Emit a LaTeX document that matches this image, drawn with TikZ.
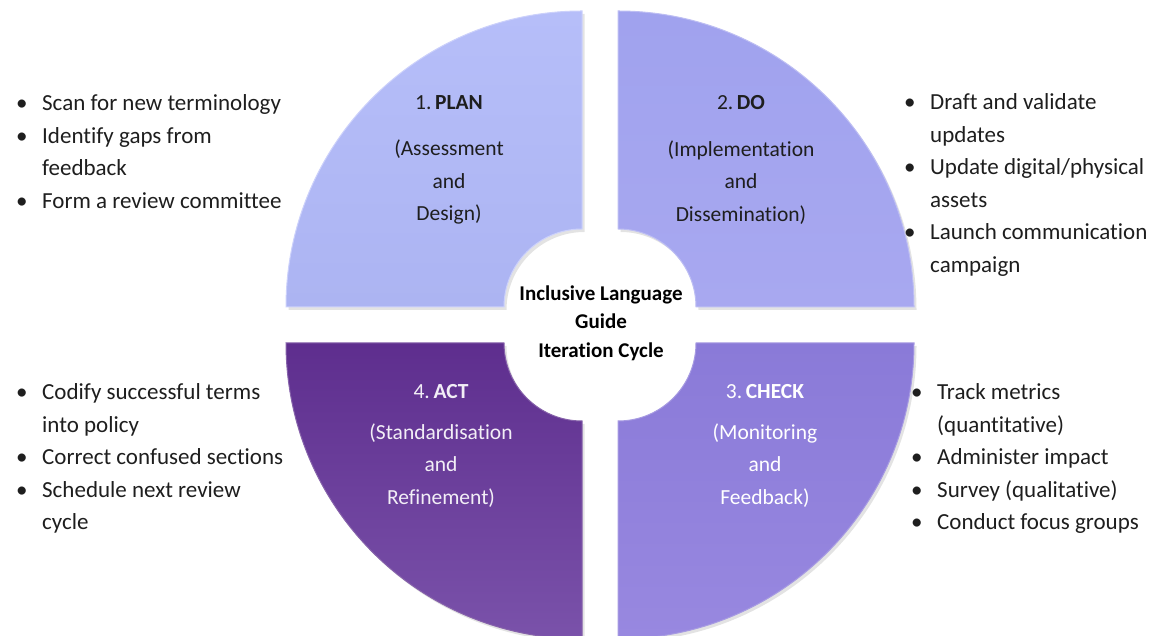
\documentclass[tikz,border=0pt]{standalone}
\usepackage{fontspec}
\setmainfont{Carlito}[Ligatures=NoCommon]
\usetikzlibrary{shadows}

\definecolor{planfill}{HTML}{B6BEF9}
\definecolor{planfillb}{HTML}{ACB4F2}
\definecolor{dofill}{HTML}{A0A2EE}
\definecolor{dofillb}{HTML}{A8A8F0}
\definecolor{checkfill}{HTML}{8A7AD8}
\definecolor{checkfillb}{HTML}{9888E0}
\definecolor{actfill}{HTML}{5E2E8E}
\definecolor{actfillb}{HTML}{7A52AA}
\definecolor{inktext}{HTML}{1E1E1E}

\tikzset{
  segment/.style={drop shadow={opacity=0.22,shadow xshift=2.5pt,shadow yshift=-3pt},
                  line width=1pt},
  seglabel/.style={align=center,font=\fontsize{21.5}{32.5}\selectfont,inner sep=0pt},
  bulletlist/.style={anchor=base west,inner sep=0pt,text=inktext,
                     font=\fontsize{23}{32.5}\selectfont},
  hub/.style={align=center,text=black,inner sep=0pt,
              font=\fontsize{21}{28.5}\selectfont\bfseries}
}

\newcommand{\blt}{\makebox[26pt][l]{•}}

\begin{document}
\begin{tikzpicture}[x=1pt,y=1pt]
\useasboundingbox (0,0) rectangle (1157,636);

% quarter rings, each around its own corner point
\begin{scope}[shift={(582pt,329pt)}]
  \path[segment,top color=planfill,bottom color=planfillb,draw=planfill!70!white]
    (180:296pt) arc[start angle=180,end angle=90,radius=296pt]
    -- (90:78pt) arc[start angle=90,end angle=180,radius=78pt] -- cycle;
\end{scope}
\begin{scope}[shift={(618pt,329pt)}]
  \path[segment,top color=dofill,bottom color=dofillb,draw=dofill!70!white]
    (90:296pt) arc[start angle=90,end angle=0,radius=296pt]
    -- (0:78pt) arc[start angle=0,end angle=90,radius=78pt] -- cycle;
\end{scope}
\begin{scope}[shift={(582pt,293pt)}]
  \path[segment,top color=actfill,bottom color=actfillb,draw=actfill!75!white]
    (180:296pt) arc[start angle=180,end angle=270,radius=296pt]
    -- (270:78pt) arc[start angle=270,end angle=180,radius=78pt] -- cycle;
\end{scope}
\begin{scope}[shift={(618pt,293pt)}]
  \path[segment,top color=checkfill,bottom color=checkfillb,draw=checkfill!75!white]
    (0:296pt) arc[start angle=0,end angle=-90,radius=296pt]
    -- (-90:78pt) arc[start angle=-90,end angle=0,radius=78pt] -- cycle;
\end{scope}

% segment titles
\node[seglabel,text=inktext] (plan) at (449,476)
  {1.\,\textbf{PLAN}\\[14pt](Assessment\\and\\Design)};
\node[seglabel,text=inktext] (do) at (741,476)
  {2.\,\textbf{DO}\\[14pt](Implementation\\and\\Dissemination)};
\node[seglabel,text=white!92!actfill] (act) at (441,190)
  {4.\,\textbf{ACT}\\[8pt](Standardisation\\and\\Refinement)};
\node[seglabel,text=white] (check) at (765,190)
  {3.\,\textbf{CHECK}\\[8pt](Monitoring\\and\\Feedback)};

% centre label
\node[hub] (hub) at (601,313) {Inclusive Language\\Guide\\Iteration Cycle};

% activity lists
\node[bulletlist] (planlist) at (16,525) {\begin{tabular}[t]{@{}l@{}}
\blt Scan for new terminology\\
\blt Identify gaps from\\
\hspace{26pt}feedback\\
\blt Form a review committee
\end{tabular}};
\node[bulletlist] (dolist) at (904,526) {\begin{tabular}[t]{@{}l@{}}
\blt Draft and validate\\
\hspace{26pt}updates\\
\blt Update digital/physical\\
\hspace{26pt}assets\\
\blt Launch communication\\
\hspace{26pt}campaign
\end{tabular}};
\node[bulletlist] (actlist) at (16,236) {\begin{tabular}[t]{@{}l@{}}
\blt Codify successful terms\\
\hspace{26pt}into policy\\
\blt Correct confused sections\\
\blt Schedule next review\\
\hspace{26pt}cycle
\end{tabular}};
\node[bulletlist] (checklist) at (911,236) {\begin{tabular}[t]{@{}l@{}}
\blt Track metrics\\
\hspace{26pt}(quantitative)\\
\blt Administer impact\\
\blt Survey (qualitative)\\
\blt Conduct focus groups
\end{tabular}};
\end{tikzpicture}
\end{document}
